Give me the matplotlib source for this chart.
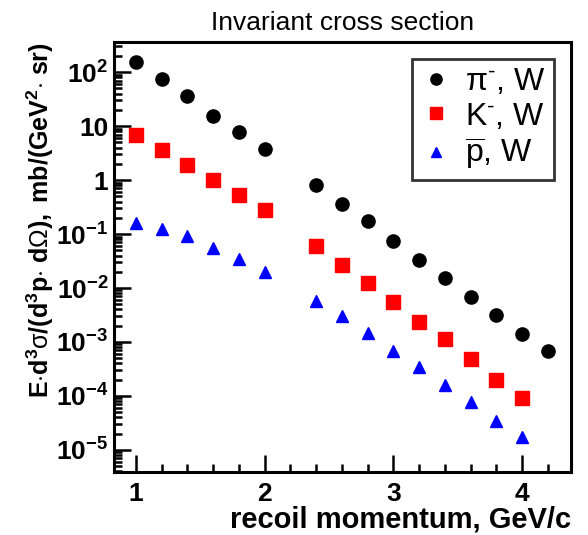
import numpy as np
import matplotlib
matplotlib.use("Agg")
import matplotlib.pyplot as plt
from matplotlib.ticker import FixedLocator, LogLocator, NullFormatter, FixedFormatter

plt.rcParams['font.family'] = ['Liberation Sans', 'DejaVu Sans']
plt.rcParams['mathtext.fontset'] = 'custom'
plt.rcParams['mathtext.rm'] = 'Liberation Sans'
plt.rcParams['mathtext.it'] = 'Liberation Sans:italic'
plt.rcParams['mathtext.bf'] = 'Liberation Sans:bold'

# recoil momentum bins, GeV/c
p_pi = [1.0, 1.2, 1.4, 1.6, 1.8, 2.0, 2.4, 2.6, 2.8, 3.0, 3.2, 3.4, 3.6, 3.8, 4.0, 4.2]
p_k = [1.0, 1.2, 1.4, 1.6, 1.8, 2.0, 2.4, 2.6, 2.8, 3.0, 3.2, 3.4, 3.6, 3.8, 4.0]
p_pbar = [1.0, 1.2, 1.4, 1.6, 1.8, 2.0, 2.4, 2.6, 2.8, 3.0, 3.2, 3.4, 3.6, 3.8, 4.0]

# invariant cross sections, mb/(GeV^2 sr)
xs_pi = [155, 74, 35.5, 15.2, 7.7, 3.7, 0.81, 0.366, 0.175, 0.074, 0.0335,
         0.0152, 0.0069, 0.0031, 0.0014, 0.00068]
xs_k = [6.9, 3.6, 1.94, 0.99, 0.54, 0.275, 0.059, 0.027, 0.0123, 0.0054,
        0.00237, 0.00112, 0.00048, 0.0002, 9.2e-5]
xs_pbar = [0.163, 0.123, 0.092, 0.056, 0.035, 0.020, 0.0057, 0.003, 0.00144,
           0.00068, 0.00035, 0.00016, 7.6e-5, 3.5e-5, 1.74e-5]

x_major = [1, 2, 3, 4]
y_major = [1e2, 1e1, 1, 1e-1, 1e-2, 1e-3, 1e-4, 1e-5]
y_labels = [r'$\mathbf{10^{2}}$', '10', '1', r'$\mathbf{10^{-1}}$', r'$\mathbf{10^{-2}}$',
            r'$\mathbf{10^{-3}}$', r'$\mathbf{10^{-4}}$', r'$\mathbf{10^{-5}}$']

fig = plt.figure(figsize=(5.88, 5.35), dpi=100)
ax = fig.add_axes([114 / 588, 1 - 472 / 535, (571 - 114) / 588, (472 - 42) / 535])

ax.plot(p_pi, xs_pi, 'o', color='black', markersize=9.5, label=r'$\mathrm{\pi}^{\text{-}}$, W')
ax.plot(p_k, xs_k, 's', color='#ff0000', markersize=10, label=r'K$^{\text{-}}$, W')
ax.plot(p_pbar, xs_pbar, '^', color='#0000ff', markersize=9, label=r'$\overline{\mathrm{p}}$, W')

ax.set_yscale('log')
ax.set_xlim(0.83, 4.38)
ax.set_ylim(10 ** -5.41, 10 ** 2.56)

ax.xaxis.set_major_locator(FixedLocator(x_major))
ax.xaxis.set_minor_locator(FixedLocator(np.arange(0.8, 4.41, 0.2)))
ax.yaxis.set_major_locator(FixedLocator(y_major))
ax.yaxis.set_major_formatter(FixedFormatter(y_labels))
ax.yaxis.set_minor_locator(LogLocator(base=10, subs=np.arange(2, 10), numticks=20))
ax.yaxis.set_minor_formatter(NullFormatter())

ax.tick_params(which='both', direction='in', top=False, right=False, width=1.8)
ax.tick_params(which='major', length=12, labelsize=19, pad=4)
ax.tick_params(which='minor', length=6)
ax.tick_params(axis='x', which='major', pad=7)
for lbl in ax.get_xticklabels() + ax.get_yticklabels():
    lbl.set_fontweight('bold')
for sp in ax.spines.values():
    sp.set_linewidth(2.2)

ax.set_title('Invariant cross section', fontsize=19, pad=9)
ax.set_xlabel('recoil momentum, GeV/c', fontsize=21, fontweight='bold', loc='right', labelpad=0)
ax.set_ylabel(r'$\mathbf{E{\cdot}d^{3}}\mathrm{\sigma}\mathbf{/(d^{3}p{\cdot}\ d}\mathrm{\Omega}'
              r'\mathbf{),\ mb/(GeV^{2}{\cdot}\ sr)}$',
              fontsize=18, loc='top', labelpad=0)

leg = ax.legend(loc='upper right', bbox_to_anchor=(0.962, 0.961), fontsize=23,
                frameon=True, fancybox=False, edgecolor='black', handlelength=1.0,
                markerscale=0.85, handletextpad=0.4, borderpad=0.25, labelspacing=0.15,
                borderaxespad=0)
leg.get_frame().set_linewidth(2)

fig.savefig('out.png', dpi=100)
